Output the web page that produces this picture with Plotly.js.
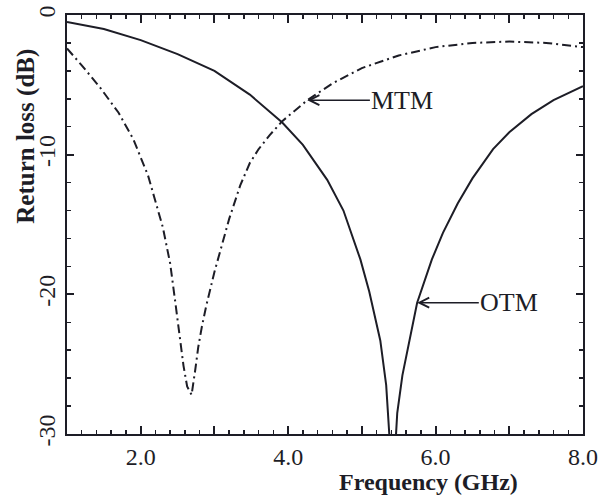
<!DOCTYPE html>
<html>
<head>
<meta charset="utf-8">
<script src="https://cdn.plot.ly/plotly-3.0.1.min.js"></script>
<style>html,body{margin:0;padding:0;background:#fff;}#chart{width:598px;height:495px;}</style>
</head>
<body>
<div id="chart"></div>
<script>
// OTM (solid) return loss
const freqOTM = [1.0, 1.5, 2.0, 2.5, 3.0, 3.48, 3.92, 4.2, 4.53, 4.75, 4.98, 5.1, 5.25, 5.33, 5.42, 5.48, 5.55, 5.65, 5.75, 5.95, 6.1, 6.3, 6.5, 6.78, 7.0, 7.3, 7.6, 8.0];
const lossOTM = [-0.5, -1.0, -1.8, -2.8, -4.0, -5.7, -7.7, -9.3, -11.8, -14.0, -17.5, -19.8, -23.3, -26.5, -34.0, -28.5, -25.8, -23.3, -20.6, -17.5, -15.6, -13.5, -11.7, -9.6, -8.4, -7.1, -6.1, -5.1];
// MTM (dash-dot) return loss
const freqMTM = [1.0, 1.2, 1.45, 1.7, 1.9, 2.1, 2.3, 2.4, 2.47, 2.52, 2.58, 2.63, 2.69, 2.74, 2.78, 2.83, 2.89, 3.0, 3.2, 3.35, 3.48, 3.6, 3.75, 3.92, 4.26, 4.6, 5.0, 5.5, 6.0, 6.5, 7.0, 7.5, 8.0];
const lossMTM = [-2.4, -3.6, -5.2, -7.0, -8.9, -11.5, -15.2, -17.8, -20.6, -22.8, -25.1, -26.6, -27.2, -25.4, -23.8, -22.3, -20.8, -18.4, -14.6, -12.2, -10.6, -9.6, -8.6, -7.6, -6.1, -4.9, -3.8, -2.9, -2.3, -2.0, -1.9, -2.0, -2.3];
// ticks
const xTickVals = [1, 2, 3, 4, 5, 6, 7, 8];
const xTickText = ['', '2.0', '', '4.0', '', '6.0', '', '8.0'];
const yTickVals = [0, -10, -20, -30];
const yTickText = ['0', '-10', '-20', '-30'];
// labels
const xTitle = 'Frequency (GHz)';
const yTitle = 'Return loss (dB)';
const labelMTM = 'MTM';
const labelOTM = 'OTM';
const tipMTM = [4.26, -6.1];
const tipOTM = [5.75, -20.6];

const ink = '#1d1d26';
const serif = 'Liberation Serif, Times New Roman, serif';
const serifBold = 'Liberation Serif Bold, Liberation Serif, serif';
const bold = s => '<b>' + s + '</b>';

const traces = [
  {x: freqOTM, y: lossOTM, mode: 'lines', name: 'OTM',
   line: {color: ink, width: 2}},
  {x: freqMTM, y: lossMTM, mode: 'lines', name: 'MTM',
   line: {color: ink, width: 2, dash: '9px,4px,2px,4px'}}
];

const layout = {
  width: 598, height: 495,
  margin: {l: 67, r: 15, t: 15, b: 61},
  showlegend: false,
  xaxis: {
    range: [1, 8], tickmode: 'array', tickvals: xTickVals, ticktext: xTickText,
    showgrid: false, zeroline: false, showline: true, linecolor: ink, linewidth: 2,
    mirror: 'allticks', ticks: 'inside', ticklen: 8, tickwidth: 2, tickcolor: ink,
    tickfont: {family: serifBold, size: 24, color: ink},
    minor: {dtick: 0.2, ticks: 'inside', ticklen: 4, tickcolor: ink, tickwidth: 1.5}
  },
  yaxis: {
    range: [-30, 0], tickmode: 'array', tickvals: yTickVals, ticktext: yTickText,
    showgrid: false, zeroline: false, showline: true, linecolor: ink, linewidth: 2,
    mirror: 'allticks', ticks: 'inside', ticklen: 7, tickwidth: 2, tickcolor: ink,
    tickangle: -90,
    tickfont: {family: serifBold, size: 24, color: ink},
    minor: {dtick: 2, ticks: 'inside', ticklen: 4, tickcolor: ink, tickwidth: 1.5}
  },
  annotations: [
    {xref: 'paper', yref: 'paper', x: 0.70, y: -0.115, xanchor: 'center', yanchor: 'middle',
     text: bold(xTitle), showarrow: false, font: {family: serif, size: 24, color: ink}},
    {xref: 'paper', yref: 'paper', x: -0.081, y: 0.71, xanchor: 'center', yanchor: 'middle',
     textangle: -90, text: bold(yTitle), showarrow: false, font: {family: serif, size: 25, color: ink}},
    {xref: 'x', yref: 'y', x: tipMTM[0], y: tipMTM[1], axref: 'x', ayref: 'y', ax: 5.55, ay: tipMTM[1],
     text: labelMTM, showarrow: true, arrowhead: 5, arrowsize: 1.3, arrowwidth: 1.5, arrowcolor: ink,
     font: {family: serif, size: 26, color: ink}, borderpad: 1},
    {xref: 'x', yref: 'y', x: tipOTM[0], y: tipOTM[1], axref: 'x', ayref: 'y', ax: 7.0, ay: tipOTM[1],
     text: labelOTM, showarrow: true, arrowhead: 5, arrowsize: 1.3, arrowwidth: 1.5, arrowcolor: ink,
     font: {family: serif, size: 26, color: ink}, borderpad: 1}
  ]
};

Plotly.newPlot('chart', traces, layout, {displayModeBar: false, staticPlot: true});
</script>
</body>
</html>
